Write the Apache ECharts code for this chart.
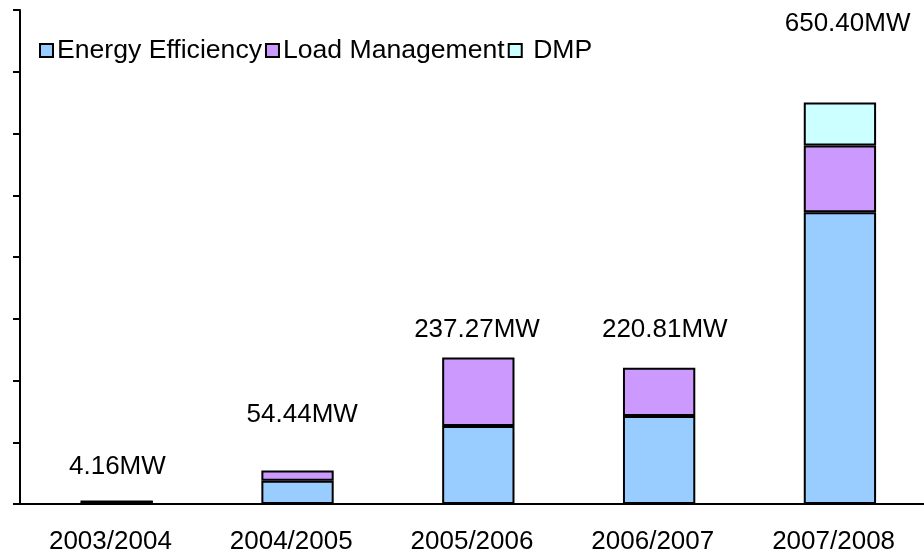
<!DOCTYPE html>
<html>
<head>
<meta charset="utf-8">
<script src="https://cdn.jsdelivr.net/npm/echarts@6/dist/echarts.min.js"></script>
<style>
  html, body { margin: 0; padding: 0; background: #fff; }
  #main { width: 924px; height: 555px; }
</style>
</head>
<body>
<div id="main"></div>
<script>
// 年度
var years = ['2003/2004', '2004/2005', '2005/2006', '2006/2007', '2007/2008'];
// 各部分 (MW)
var energyEfficiency = [4.16, 37.6, 126.2, 142.4, 472.6];
var loadManagement = [0, 16.84, 111.07, 78.41, 108.0];
var dmp = [null, null, null, null, 69.8];
// 顶部合计标签
var totals = [4.16, 54.44, 237.27, 220.81, 650.40];

// 标签偏移 (手动放置的文本框)
var labelOffsets = [[7, -17], [11, -38], [5, -10], [12, -20], [14, -61]];

var font = 'Liberation Sans, Arial, sans-serif';
var border = { borderColor: '#000', borderWidth: 2 };

var myChart = echarts.init(document.getElementById('main'));
var option = {
    backgroundColor: '#fff',
    animation: false,
    textStyle: { fontFamily: font },
    legend: {
        data: ['Energy Efficiency', 'Load Management', 'DMP'],
        left: 34,
        top: 32,
        icon: 'rect',
        itemWidth: 13,
        itemHeight: 13,
        itemGap: 3,
        formatter: function(name) {
            return name === 'DMP' ? ' DMP' : name;
        },
        textStyle: { fontSize: 26.6, color: '#000', fontFamily: font, padding: [0, 0, 0, -1] }
    },
    grid: { left: 20, top: 10, bottom: 49, width: 915 },
    xAxis: {
        type: 'category',
        data: years,
        axisLine: { lineStyle: { color: '#000', width: 2 } },
        axisTick: { length: 6, lineStyle: { color: '#000', width: 2 } },
        axisLabel: { color: '#000', fontSize: 26, margin: 25, fontFamily: font }
    },
    yAxis: {
        type: 'value',
        min: 0,
        max: 800,
        interval: 100,
        axisLine: { show: true, lineStyle: { color: '#000', width: 2 } },
        axisTick: { show: true, length: 7, lineStyle: { color: '#000', width: 2 } },
        axisLabel: { show: false },
        splitLine: { show: false }
    },
    series: [
        {
            name: 'Energy Efficiency', type: 'bar', stack: 'mw', barWidth: '40%',
            data: energyEfficiency,
            itemStyle: Object.assign({ color: '#99ccff' }, border)
        },
        {
            name: 'Load Management', type: 'bar', stack: 'mw',
            data: loadManagement,
            itemStyle: Object.assign({ color: '#cc99ff' }, border)
        },
        {
            name: 'DMP', type: 'bar', stack: 'mw',
            data: dmp,
            itemStyle: Object.assign({ color: '#ccffff' }, border)
        },
        {
            name: 'total', type: 'bar', barGap: '-100%', silent: true, z: 1,
            data: totals.map(function(v, i) {
                return {
                    value: v,
                    label: { offset: labelOffsets[i] }
                };
            }),
            itemStyle: { color: 'rgba(0,0,0,0)' },
            label: {
                show: true,
                position: 'top',
                distance: 5,
                color: '#000',
                fontSize: 26,
                fontFamily: font,
                formatter: function(p) {
                    return p.value.toFixed(2) + 'MW';
                }
            }
        }
    ]
};
myChart.setOption(option);
</script>
</body>
</html>
